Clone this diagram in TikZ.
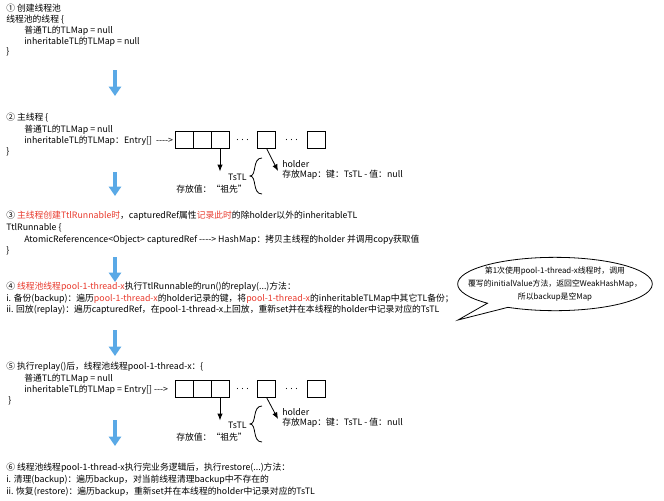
\documentclass[tikz,border=0pt]{standalone}
\usepackage{fontspec}
\setmainfont{Noto Sans CJK SC}
\usetikzlibrary{shapes.callouts,positioning,arrows.meta}
\definecolor{hl}{HTML}{E8392C}
\definecolor{flow}{HTML}{5AA9E6}
\newcommand{\hl}[1]{\textcolor{hl}{#1}}
\begin{document}
\begin{tikzpicture}[
    x=0.75pt, y=-0.75pt,
    txt/.style={anchor=west, inner sep=0pt, font=\fontsize{6.6}{8}\selectfont},
    cell/.style={draw, minimum width=13.5pt, minimum height=12.75pt, inner sep=0pt, line width=0.5pt},
    pointer/.style={-{Latex[length=5pt,width=4pt]}, line width=0.6pt},
    flowarrow/.style={flow, line width=2.6pt, -{Triangle[length=7pt,width=9pt]}}
]
\useasboundingbox (0,0) rectangle (664,500);
% Step 1
\node[txt] (s1a) at (6,8) {① 创建线程池};
\node[txt] (s1b) at (6,20) {线程池的线程 \{};
\node[txt] (s1c) at (24,31) {普通TL的TLMap = null};
\node[txt] (s1d) at (24,42) {inheritableTL的TLMap = null};
\node[txt] (s1e) at (6,52) {\}};
\coordinate (f1a) at (115,70); \coordinate (f1b) at (115,96);
\draw[flowarrow] (f1a) -- (f1b);
% Step 2
\node[txt] (s2a) at (6,118) {② 主线程 \{};
\node[txt] (s2b) at (24,130) {普通TL的TLMap = null};
\node[txt] (s2c) at (24,141) {inheritableTL的TLMap：Entry[] \ {-}{-}{-}{-}>};
\node[txt] (s2d) at (6,152) {\}};
\foreach \n/\x in {a/184,b/202,c/220,d/266.5,e/316}
  \node[cell] (c2\n) at (\x,139.5) {};
\node[txt] (d2a) at (236,140) {. . .};
\node[txt] (d2b) at (285,140) {. . .};
\node[txt, anchor=east] (t2a) at (247,177) {TsTL};
\node[txt, anchor=east] (t2b) at (247,189) {存放值：“祖先”};
\node[txt] (h2a) at (282,164) {holder};
\node[txt] (h2b) at (282,175) {存放Map：键：TsTL - 值：null};
\draw[line width=0.6pt] (262,158) .. controls (252,158) and (257,176) .. (250,176) .. controls (257,176) and (252,194) .. (262,194);
\draw[pointer] (c2c.south) -- ++(0,23);
\draw[pointer] (c2d.south) -- (278,171);
\coordinate (f2a) at (115,172); \coordinate (f2b) at (115,196);
\draw[flowarrow] (f2a) -- (f2b);
% Step 3
\node[txt] (s3a) at (6,216) {③ \hl{主线程创建TtlRunnable时}，capturedRef属性\hl{记录此时}的除holder以外的inheritableTL};
\node[txt] (s3b) at (6,228) {TtlRunnable \{};
\node[txt] (s3c) at (24,240) {AtomicReferencence<Object> capturedRef {-}{-}{-}{-}> HashMap：拷贝主线程的holder 并调用copy获取值};
\node[txt] (s3d) at (6,251) {\}};
\coordinate (f3a) at (115,257); \coordinate (f3b) at (115,282);
\draw[flowarrow] (f3a) -- (f3b);
% Step 4
\node[txt] (s4a) at (6,287) {④ \hl{线程池线程pool-1-thread-x}执行TtlRunnable的run()的replay(...)方法：};
\node[txt] (s4b) at (6,299) {i. 备份(backup)：遍历\hl{pool-1-thread-x}的holder记录的键，将\hl{pool-1-thread-x}的inheritableTLMap中其它TL备份；};
\node[txt] (s4c) at (6,310) {ii. 回放(replay)：遍历capturedRef，在pool-1-thread-x上回放，重新set并在本线程的holder中记录对应的TsTL};
\node[ellipse callout, draw, line width=0.6pt, minimum width=146pt, minimum height=40pt, inner sep=0pt,
  callout absolute pointer={(458,320)}] (note) at (555,284) {};
\node[align=center, inner sep=0pt, font=\fontsize{5.9}{9.5}\selectfont] (notetext) at (note.center)
  {第1次使用pool-1-thread-x线程时，调用\\覆写的initialValue方法，返回空WeakHashMap，\\所以backup是空Map};
\coordinate (f4a) at (115,330); \coordinate (f4b) at (115,356);
\draw[flowarrow] (f4a) -- (f4b);
% Step 5
\node[txt] (s5a) at (6,367) {⑤ 执行replay()后，线程池线程pool-1-thread-x：\{};
\node[txt] (s5b) at (24,379) {普通TL的TLMap = null};
\node[txt] (s5c) at (24,390) {inheritableTL的TLMap = Entry[] {-}{-}{-}>};
\node[txt] (s5d) at (8,401) {\}};
\foreach \n/\x in {a/184,b/202,c/220,d/266.5,e/316}
  \node[cell] (c5\n) at (\x,388.5) {};
\node[txt] (d5a) at (236,389) {. . .};
\node[txt] (d5b) at (285,389) {. . .};
\node[txt, anchor=east] (t5a) at (247,425) {TsTL};
\node[txt, anchor=east] (t5b) at (247,437) {存放值：“祖先”};
\node[txt] (h5a) at (282,412) {holder};
\node[txt] (h5b) at (282,423) {存放Map：键：TsTL - 值：null};
\draw[line width=0.6pt] (262,406) .. controls (252,406) and (257,424) .. (250,424) .. controls (257,424) and (252,442) .. (262,442);
\draw[pointer] (c5c.south) -- ++(0,23);
\draw[pointer] (c5d.south) -- (278,419);
\coordinate (f5a) at (115,420); \coordinate (f5b) at (115,446);
\draw[flowarrow] (f5a) -- (f5b);
% Step 6
\node[txt] (s6a) at (6,468) {⑥ 线程池线程pool-1-thread-x执行完业务逻辑后，执行restore(...)方法：};
\node[txt] (s6b) at (6,480) {i. 清理(backup)：遍历backup，对当前线程清理backup中不存在的};
\node[txt] (s6c) at (6,492) {ii. 恢复(restore)：遍历backup，重新set并在本线程的holder中记录对应的TsTL};
\end{tikzpicture}
\end{document}
